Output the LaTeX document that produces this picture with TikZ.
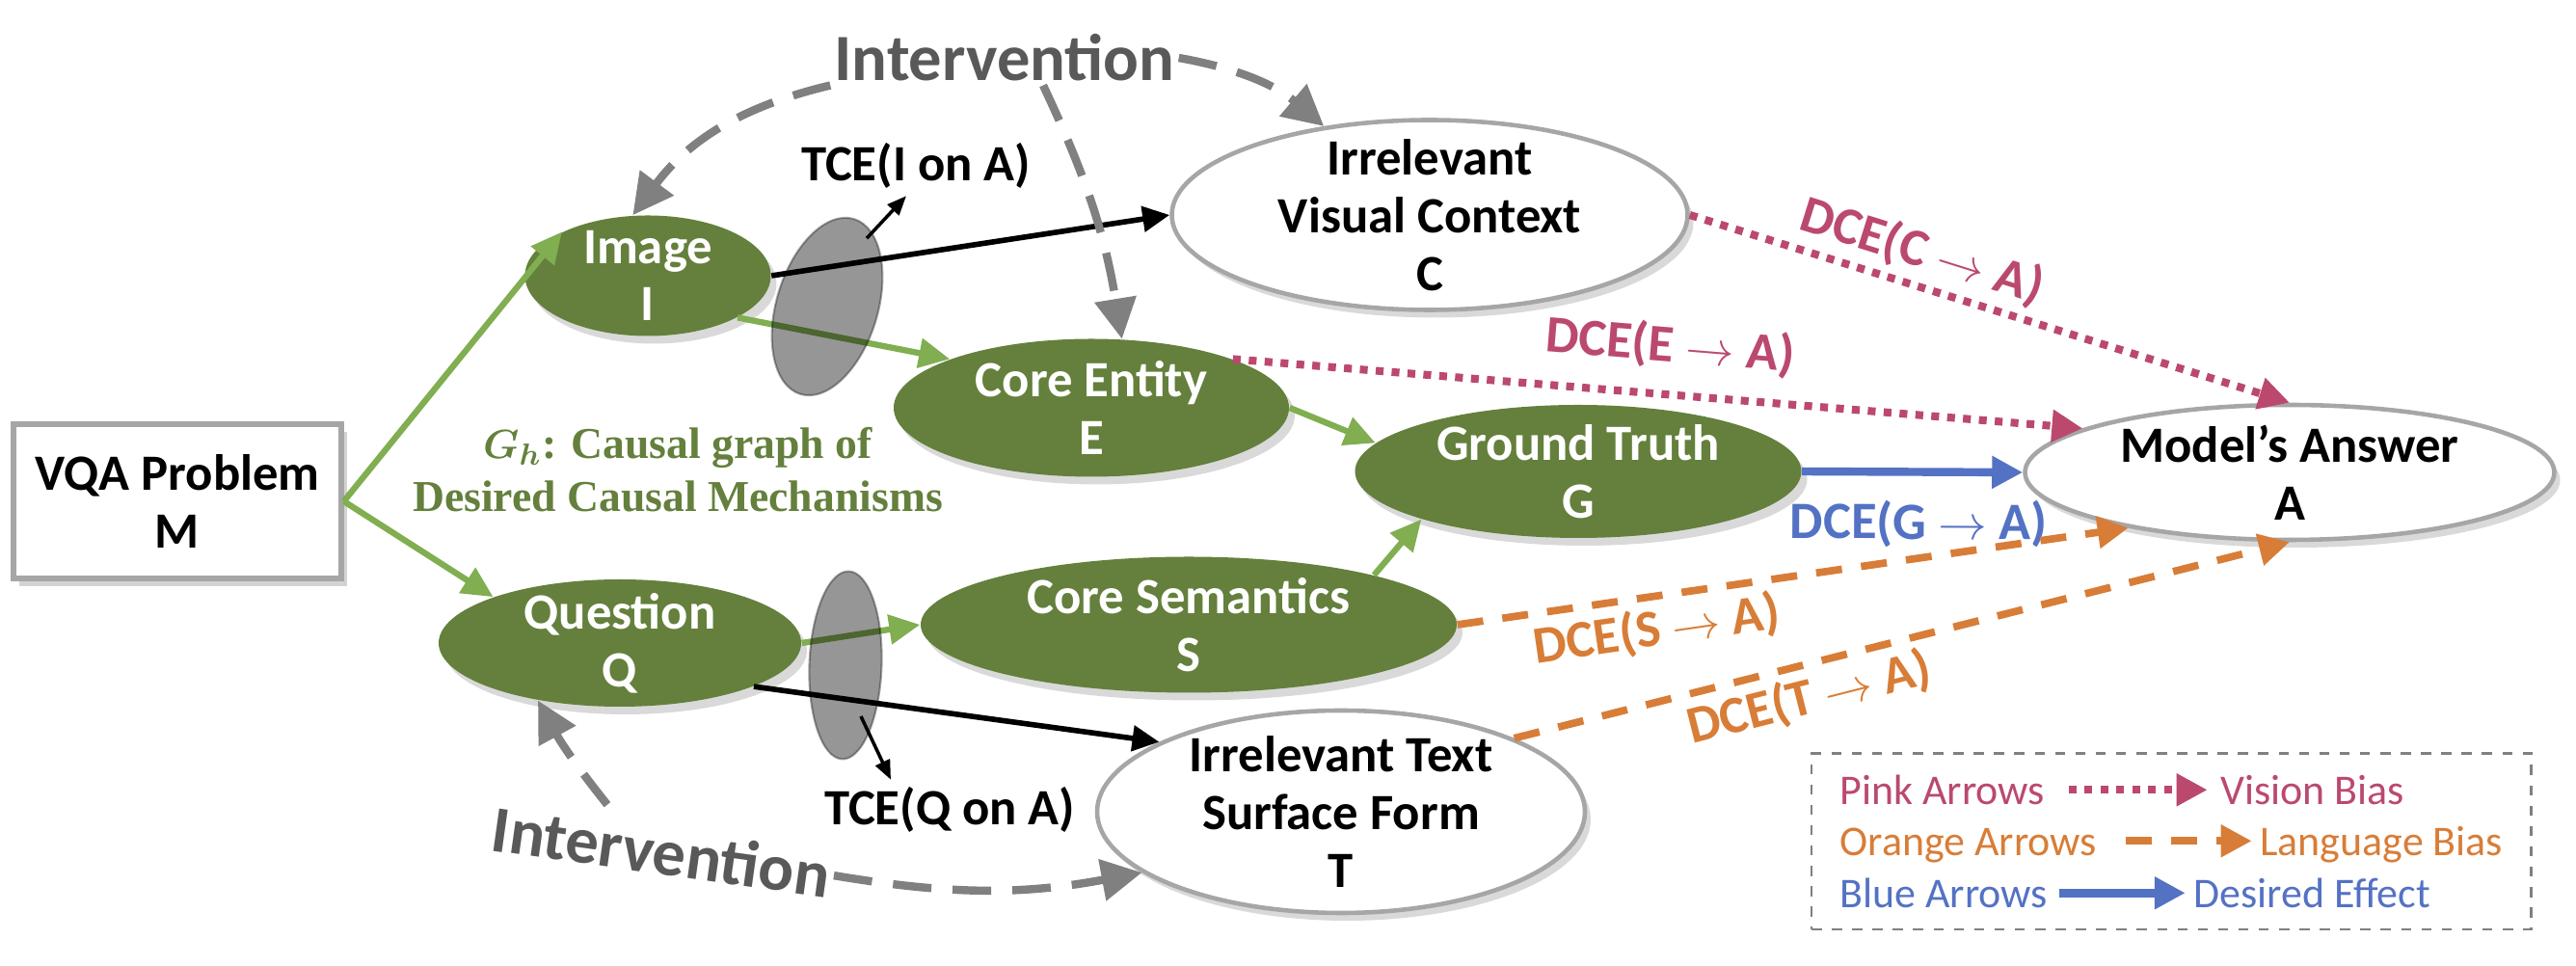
\documentclass[tikz,border=0pt]{standalone}
\usepackage{fontspec}
\setmainfont{Carlito}
\newfontfamily\labelserif{Liberation Serif}
\usetikzlibrary{arrows.meta, positioning, shapes.geometric, shadows, fit}

\definecolor{nodegreen}{RGB}{100,128,60}
\definecolor{arrowgreen}{RGB}{128,174,80}
\definecolor{biaspink}{RGB}{187,73,110}
\definecolor{biasorange}{RGB}{216,125,55}
\definecolor{effectblue}{RGB}{84,114,196}
\definecolor{intervgray}{RGB}{128,128,128}
\definecolor{intervtext}{RGB}{89,89,89}
\definecolor{bordergray}{RGB}{166,166,166}
\definecolor{tcegray}{RGB}{150,150,150}

\begin{document}
\begin{tikzpicture}[
    node_font/.style={font=\fontsize{15}{17}\selectfont\bfseries},
    graph_node/.style={
            ellipse,
            node_font,
            align=center,
            inner xsep=-1cm,
            inner ysep=-1cm,
            drop shadow={opacity=0.3, shadow xshift=0.6mm, shadow yshift=-0.8mm}
        },
    desired_node/.style={graph_node, fill=nodegreen, text=white},
    bias_node/.style={graph_node, fill=white, draw=bordergray, line width=1.3pt},
    problem_block/.style={
            rectangle,
            node_font,
            align=center,
            fill=white,
            draw=bordergray,
            line width=1.5pt,
            minimum width=3.40cm,
            minimum height=1.60cm,
            drop shadow={opacity=0.35, shadow xshift=0.6mm, shadow yshift=-0.8mm}
        },
    tce_block/.style={ellipse, fill=tcegray, draw=tcegray!80!white, line width=0.6pt, blend mode=multiply, inner sep=0pt},
    tce_text/.style={node_font, inner sep=2pt},
    interv_text/.style={font=\fontsize{19.5}{22}\selectfont\bfseries, text=intervtext, inner sep=1pt},
    gh_text/.style={font=\labelserif\fontsize{13}{15.5}\selectfont\bfseries, text=nodegreen, align=center},
    dce_label/.style={font=\fontsize{15.5}{17}\selectfont\bfseries, sloped, inner sep=2pt},
    legend_text/.style={font=\fontsize{12.5}{15}\selectfont, inner sep=0pt, text height=0.3cm, text depth=0pt},
    legend_border/.style={draw=intervgray, dashed, line width=0.8pt, inner xsep=0.29cm, inner ysep=0.22cm},
    green_arrow/.style={draw=arrowgreen, line width=1.8pt, -{Triangle[length=3.2mm, width=3mm]}},
    cause_arrow/.style={draw=black, line width=1.6pt, -{Triangle[length=2.8mm, width=2.6mm]}},
    tce_arrow/.style={draw=black, line width=1pt, -{Triangle[length=2mm, width=1.6mm]}},
    pink_arrow/.style={draw=biaspink, line width=2.3pt, dash pattern=on 2.3pt off 2.4pt, -{Triangle[length=3.2mm, width=3.2mm]}},
    orange_arrow/.style={draw=biasorange, line width=2.2pt, dash pattern=on 2.7mm off 2mm, -{Triangle[length=3.2mm, width=3.2mm]}},
    blue_arrow/.style={draw=effectblue, line width=2.4pt, -{Triangle[length=3.2mm, width=3.2mm]}},
    interv_arrow/.style={draw=intervgray, line width=2.4pt, dash pattern=on 4mm off 2.2mm, -{Triangle[length=4.2mm, width=4.2mm]}}
    ]

    \useasboundingbox (0,0) rectangle (26.72,10.02);

    % --- Problem and inputs ---
    \node (vqa) [problem_block] at (1.84, 4.82) {VQA Problem\\M};
    \node (image) [desired_node, minimum width=2.55cm, minimum height=1.25cm] at (6.72, 7.16) {Image\\I};
    \node (question) [desired_node, minimum width=3.76cm, minimum height=1.32cm] at (6.43, 3.35) {Question\\Q};

    % --- Desired mechanism ---
    \node (core_entity) [desired_node, minimum width=4.10cm, minimum height=1.43cm] at (11.32, 5.79) {Core Entity\\E};
    \node (core_semantics) [desired_node, minimum width=5.56cm, minimum height=1.41cm] at (12.33, 3.54) {Core Semantics\\S};
    \node (ground_truth) [desired_node, minimum width=4.63cm, minimum height=1.38cm] at (16.37, 5.13) {Ground Truth\\G};
    \node (gh_label) [gh_text] at (7.03, 5.15) {{\boldmath$G_h$}: Causal graph of\\Desired Causal Mechanisms};

    % --- Irrelevant factors and answer ---
    \node (visual_context) [bias_node, minimum width=5.35cm, minimum height=1.97cm] at (14.83, 7.79) {Irrelevant\\Visual Context\\C};
    \node (text_form) [bias_node, minimum width=5.06cm, minimum height=2.10cm] at (13.91, 1.60) {Irrelevant Text\\Surface Form\\T};
    \node (answer) [bias_node, minimum width=5.49cm, minimum height=1.40cm] at (23.75, 5.12) {Model’s Answer\\A};

    % --- Desired arrows ---
    \draw[green_arrow] (vqa.east) -- (image.153);
    \draw[green_arrow] (vqa.east) -- (question.160);
    \draw[green_arrow] (image.-25) -- (core_entity.161);
    \draw[green_arrow] (question.east) -- (core_semantics.west);
    \draw[green_arrow] (core_entity.east) -- (ground_truth.172);
    \draw[green_arrow] (core_semantics.15) -- (ground_truth.197);

    % --- Total causal effect ---
    \node (tce_image) [tce_block, minimum width=1.05cm, minimum height=1.9cm, rotate=-17] at (8.58, 6.84) {};
    \node (tce_question) [tce_block, minimum width=0.75cm, minimum height=1.95cm, rotate=-2] at (8.77, 3.12) {};
    \node (tce_i_label) [tce_text] at (9.50, 8.30) {TCE(I on A)};
    \node (tce_q_label) [tce_text] at (9.85, 1.62) {TCE(Q on A)};

    \draw[cause_arrow] (image.east) -- (visual_context.west);
    \draw[cause_arrow] (question.-18) -- (text_form.159);
    \draw[tce_arrow] ([xshift=1.3mm, yshift=-2.1mm]tce_image.north) -- ([xshift=-1mm]tce_i_label.south);
    \draw[tce_arrow] ([xshift=1.6mm, yshift=-5.3mm]tce_question.center) -- ([xshift=-6.1mm]tce_q_label.north);

    % --- Direct effects on the answer ---
    \draw[pink_arrow] (visual_context.east) -- node[dce_label, above, pos=0.37, text=biaspink] {DCE(C $\rightarrow$ A)} (answer.north);
    \draw[pink_arrow] (core_entity.19) -- node[dce_label, above=1.5mm, pos=0.51, text=biaspink] {DCE(E $\rightarrow$ A)} (answer.168);
    \draw[blue_arrow] (ground_truth.east) -- node[dce_label, below=1.8mm, pos=0.53, text=effectblue] {DCE(G $\rightarrow$ A)} (answer.west);
    \draw[orange_arrow] (core_semantics.east) -- node[dce_label, below, pos=0.29, text=biasorange] {DCE(S $\rightarrow$ A)} (answer.199);
    \draw[orange_arrow] (text_form.23) -- node[dce_label, below, pos=0.37, text=biasorange] {DCE(T $\rightarrow$ A)} (answer.south);

    % --- Interventions ---
    \node (intervention_top) [interv_text] at (10.42, 9.42) {Intervention};
    \node (intervention_bottom) [interv_text, rotate=-8] at (6.86, 1.19) {Intervention};

    \draw[interv_arrow] (intervention_top.south west) to[bend right=20] (image.104);
    \draw[interv_arrow] (intervention_top.east) to[bend left=15] (visual_context.140);
    \draw[interv_arrow] ([xshift=4mm]intervention_top.south) to[bend left=8] (core_entity.66);
    \draw[interv_arrow] ([xshift=-6mm, yshift=2mm]intervention_bottom.north) to[bend left=5] (question.215);
    \draw[interv_arrow] (intervention_bottom.east) to[bend right=10] (text_form.197);

    % --- Legend ---
    \node (legend_pink) [legend_text, text=biaspink, anchor=south west] at (19.08, 1.67) {Pink Arrows};
    \node (legend_vision) [legend_text, text=biaspink, right=1.81cm of legend_pink] {Vision Bias};
    \node (legend_orange) [legend_text, text=biasorange, anchor=south west] at (19.08, 1.14) {Orange Arrows};
    \node (legend_language) [legend_text, text=biasorange, right=1.68cm of legend_orange] {Language Bias};
    \node (legend_blue) [legend_text, text=effectblue, anchor=south west] at (19.08, 0.60) {Blue Arrows};
    \node (legend_desired) [legend_text, text=effectblue, right=1.50cm of legend_blue] {Desired Effect};

    \draw[pink_arrow, shorten <=2.4mm, shorten >=1.3mm] (legend_pink) -- (legend_vision);
    \draw[orange_arrow, shorten <=2.9mm, shorten >=0.8mm] (legend_orange) -- (legend_language);
    \draw[blue_arrow, shorten <=1.1mm, shorten >=0.8mm] (legend_blue) -- (legend_desired);

    \node (legend_box) [legend_border, fit=(legend_pink) (legend_language) (legend_blue) (legend_desired)] {};

\end{tikzpicture}
\end{document}
